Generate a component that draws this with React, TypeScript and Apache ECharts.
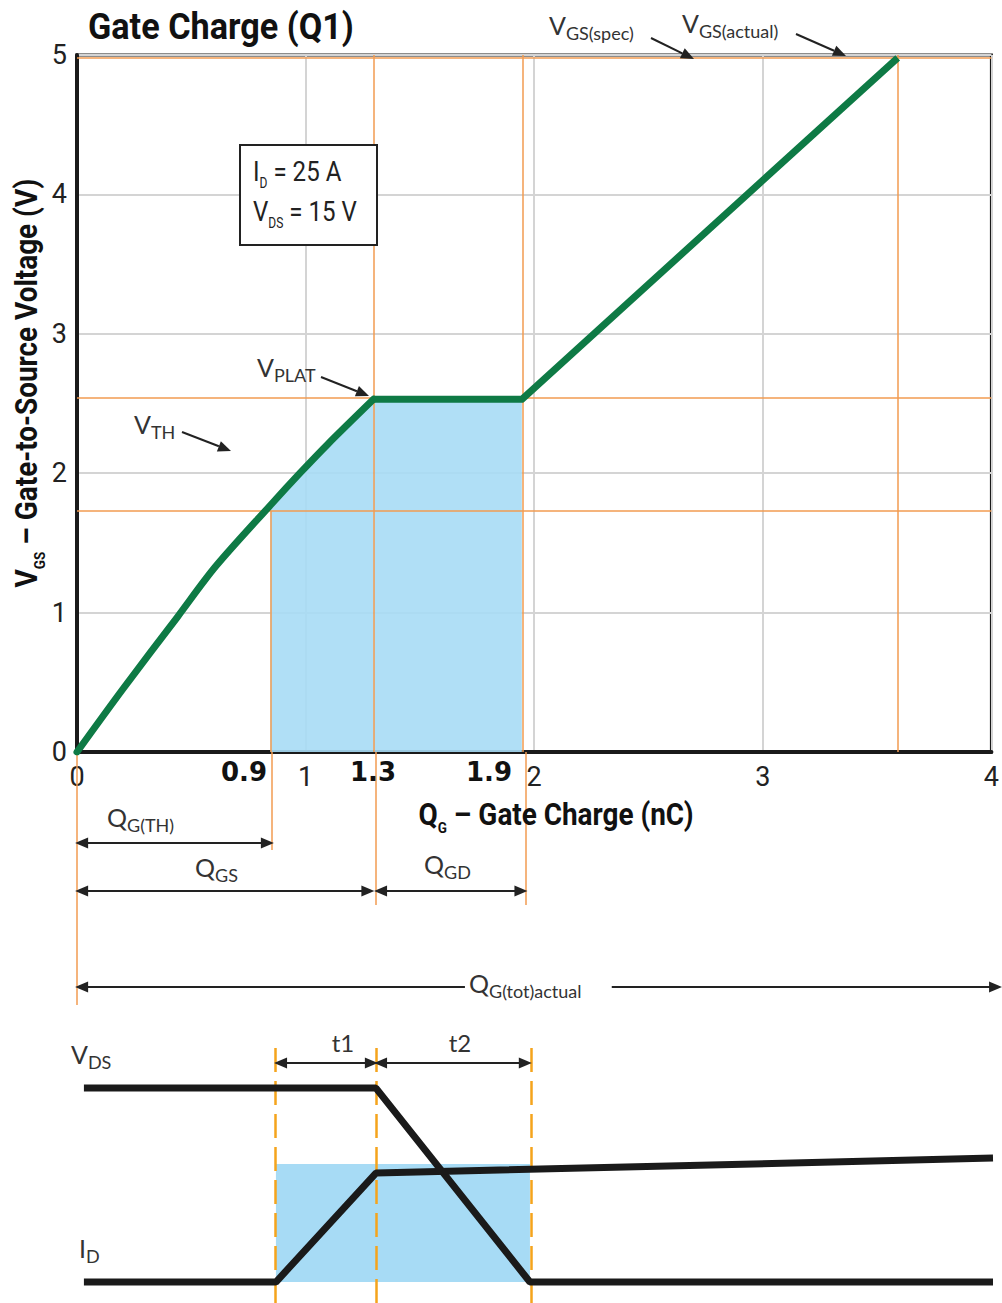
import React, { useEffect, useRef } from "react";
import * as echarts from "echarts";

// ---------- Gate charge curve (Q in nC, V in volts) ----------
// rising (curved) part up to the Miller plateau
const riseCharge = [0, 0.2, 0.44, 0.606, 0.846, 0.975, 1.098, 1.297];
const riseVoltage = [0, 0.45, 0.97, 1.33, 1.77, 2.0, 2.21, 2.53];
// plateau and final linear part
const plateauCharge = [1.297, 1.946, 3.59];
const plateauVoltage = [2.53, 2.53, 4.98];
const xRange = [0, 4];
const yRange = [0, 5];
// charge markers: QG(TH), plateau start, plateau end, QG(tot)
const chargeMarks = [0.846, 1.297, 1.946, 3.59];
const chargeMarkLabels = ["0.9", "1.3", "1.9"];
// voltage markers: VTH, VPLAT, VGS
const voltageMarks = [1.73, 2.54, 4.98];

// ---------- Charge brackets below the axis (depth rows) ----------
const bracketDepthRange = [0, 288];
const bracketRows = [91, 139, 235]; // QG(TH), QGS/QGD, QG(tot)
const guideDepths = [253, 98, 153, 153]; // orange guides at 0, QTH, plateau start, plateau end
const totGap = [1.683, 2.32];

// ---------- Switching waveforms (normalised levels) ----------
const waveYRange = [-0.108, 1.222];
const vdsTime = [0.03, 1.297, 1.965, 3.974];
const vdsLevel = [1, 1, 0, 0];
const idTime = [0.03, 0.863, 1.297, 3.974];
const idLevel = [0, 0, 0.562, 0.639];
const switchTimes = [0.863, 1.297, 1.965];
const plateauArea = [0.863, 1.965, 0.608];
const timeArrowLevel = 1.129;

const NARROW = "Roboto, 'Liberation Sans', sans-serif";
const WIDEBOLD = "'DejaVu Sans', sans-serif";
const ROUND = "Lato, 'Open Sans', 'Noto Sans', sans-serif";
const ORANGE = "#f29b50";
const DASH_ORANGE = "#f5a41c";
const BLUE = "#a7dbf5";
const GREEN = "#0e7a45";
const INK = "#1a1a1a";

type RT = {
  size: number;
  sub: number;
  family: string;
  weight?: string;
  color?: string;
  align?: string;
  rotation?: number;
  drop?: number;
  scaleX?: number;
};

function richText(x: number, y: number, text: string, o: RT) {
  const color = o.color || "#222";
  const weight = o.weight || "normal";
  return {
    type: "text",
    x,
    y,
    rotation: o.rotation || 0,
    scaleX: o.scaleX || 1,
    z: 100,
    style: {
      text,
      align: o.align || "left",
      verticalAlign: "middle",
      fontSize: o.size,
      fontFamily: o.family,
      fontWeight: weight,
      fill: color,
      rich: {
        m: {
          fontSize: o.size,
          fontFamily: o.family,
          fontWeight: weight,
          fill: color,
          verticalAlign: "top",
          padding: [0, 0, o.drop ?? 4, 0],
        },
        s: {
          fontSize: o.sub,
          fontFamily: o.family,
          fontWeight: weight,
          fill: color,
          verticalAlign: "bottom",
        },
      },
    },
  };
}

function pointer(x1: number, y1: number, x2: number, y2: number) {
  const ang = Math.atan2(y2 - y1, x2 - x1);
  const L = 13;
  const W = 5.5;
  const bx = x2 - L * Math.cos(ang);
  const by = y2 - L * Math.sin(ang);
  const px = -Math.sin(ang) * W;
  const py = Math.cos(ang) * W;
  return [
    { type: "line", z: 100, shape: { x1, y1, x2: bx, y2: by }, style: { stroke: "#222", lineWidth: 2 } },
    {
      type: "polygon",
      z: 100,
      shape: { points: [[x2, y2], [bx + px, by + py], [bx - px, by - py]] },
      style: { fill: "#222" },
    },
  ];
}

function arrowLine(x1: number, x2: number, y: number, startArrow = true, endArrow = true) {
  return [
    { coord: [x1, y], symbol: startArrow ? "triangle" : "none", symbolSize: [11, 13] },
    { coord: [x2, y], symbol: endArrow ? "triangle" : "none", symbolSize: [11, 13] },
  ];
}

export default function App() {
  const ref = useRef<HTMLDivElement>(null);

  useEffect(() => {
    if (!ref.current) return;
    const chart = echarts.init(ref.current, undefined, { renderer: "svg" });

    const rise = riseCharge.map((q, i) => [q, riseVoltage[i]]);
    const plateau = plateauCharge.map((q, i) => [q, plateauVoltage[i]]);
    const shadedRise = rise.filter((p) => p[0] >= chargeMarks[0]);
    const shadedPlateau = plateau.filter((p) => p[0] <= chargeMarks[2]);

    const orangeStyle = { color: ORANGE, width: 1.5, type: "solid" };
    const ann = { size: 25, sub: 18, family: ROUND, color: "#333", drop: 5 };

    const graphics: any[] = [
      // title
      richText(88, 27, "{m|Gate Charge (Q1)}", {
        size: 36, sub: 15, family: NARROW, weight: "bold", color: "#111", drop: 0, scaleX: 0.95,
      }),
      // y axis title
      richText(29, 383, "{m|V}{s|GS}{m| – Gate-to-Source Voltage (V)}", {
        size: 31, sub: 15, family: NARROW, weight: "bold", color: "#111",
        align: "center", rotation: Math.PI / 2, drop: 5, scaleX: 0.9,
      }),
      // x axis title
      richText(556, 817, "{m|Q}{s|G}{m| – Gate Charge (nC)}", {
        size: 31, sub: 15, family: NARROW, weight: "bold", color: "#111",
        align: "center", drop: 5, scaleX: 0.9,
      }),
      // bold charge labels
      ...chargeMarkLabels.map((t, i) => ({
        type: "text",
        x: [267, 373, 512][i],
        y: 772,
        z: 100,
        style: {
          text: t,
          fontFamily: WIDEBOLD,
          fontWeight: "bold",
          fontSize: 26,
          fill: "#111",
          align: i === 1 ? "center" : "right",
          verticalAlign: "middle",
        },
      })),
      // condition box
      {
        type: "rect",
        z: 95,
        shape: { x: 240, y: 145, width: 137, height: 100 },
        style: { fill: "#fff", stroke: "#222", lineWidth: 2 },
      },
      richText(253, 174, "{m|I}{s|D}{m| = 25 A}", { size: 28, sub: 14, family: NARROW, color: "#222", drop: 5, scaleX: 0.86 }),
      richText(253, 214, "{m|V}{s|DS}{m| = 15 V}", { size: 28, sub: 14, family: NARROW, color: "#222", drop: 5, scaleX: 0.86 }),
      // annotations in the plot
      richText(549, 27, "{m|V}{s|GS(spec)}", ann),
      ...pointer(651, 38, 694, 59),
      richText(682, 25, "{m|V}{s|GS(actual)}", ann),
      ...pointer(796, 34, 846, 56),
      richText(257, 369, "{m|V}{s|PLAT}", ann),
      ...pointer(321, 377, 369, 396),
      richText(134, 426, "{m|V}{s|TH}", ann),
      ...pointer(182, 432, 231, 451),
      // bracket labels
      richText(107, 819, "{m|Q}{s|G(TH)}", ann),
      richText(195, 869, "{m|Q}{s|GS}", ann),
      richText(424, 866, "{m|Q}{s|GD}", ann),
      richText(469, 985, "{m|Q}{s|G(tot)actual}", ann),
      // waveform labels
      richText(71, 1056, "{m|V}{s|DS}", ann),
      richText(79, 1250, "{m|I}{s|D}", ann),
      {
        type: "text",
        x: 343,
        y: 1042,
        z: 100,
        style: { text: "t1", fontFamily: ROUND, fontSize: 24, fill: "#333", align: "center", verticalAlign: "middle" },
      },
      {
        type: "text",
        x: 460,
        y: 1042,
        z: 100,
        style: { text: "t2", fontFamily: ROUND, fontSize: 24, fill: "#333", align: "center", verticalAlign: "middle" },
      },
    ];

    const option: any = {
      animation: false,
      backgroundColor: "#ffffff",
      grid: [
        { left: 77, top: 55, width: 922, height: 697, show: true, borderColor: INK, borderWidth: 3, backgroundColor: "transparent" },
        { left: 77, top: 752, width: 922, height: 288, show: false },
        { left: 77, top: 1045, width: 922, height: 258, show: false },
      ],
      xAxis: [
        {
          type: "value",
          gridIndex: 0,
          min: xRange[0],
          max: xRange[1],
          interval: 1,
          axisLine: { show: true, lineStyle: { color: INK, width: 4 } },
          axisTick: { show: false },
          splitLine: { show: true, lineStyle: { color: "#d4d4d4", width: 2 } },
          axisLabel: { fontFamily: NARROW, fontSize: 27, color: "#222", margin: 11 },
        },
        { type: "value", gridIndex: 1, min: xRange[0], max: xRange[1], show: false },
        { type: "value", gridIndex: 2, min: xRange[0], max: xRange[1], show: false },
      ],
      yAxis: [
        {
          type: "value",
          gridIndex: 0,
          min: yRange[0],
          max: yRange[1],
          interval: 1,
          axisLine: { show: true, lineStyle: { color: INK, width: 4 } },
          axisTick: { show: false },
          splitLine: { show: true, lineStyle: { color: "#d4d4d4", width: 2 } },
          axisLabel: { fontFamily: NARROW, fontSize: 27, color: "#222", margin: 10 },
        },
        { type: "value", gridIndex: 1, min: bracketDepthRange[0], max: bracketDepthRange[1], inverse: true, show: false },
        { type: "value", gridIndex: 2, min: waveYRange[0], max: waveYRange[1], show: false },
      ],
      series: [
        // shaded charge region (curved part) + orange guide lines
        {
          type: "line",
          xAxisIndex: 0,
          yAxisIndex: 0,
          data: shadedRise,
          smooth: 0.3,
          showSymbol: false,
          lineStyle: { width: 0 },
          areaStyle: { color: BLUE, opacity: 0.9 },
          z: 2,
          silent: true,
          markLine: {
            silent: true,
            symbol: "none",
            label: { show: false },
            lineStyle: orangeStyle,
            data: [
              [{ coord: [chargeMarks[0], 0] }, { coord: [chargeMarks[0], voltageMarks[0]] }],
              { xAxis: chargeMarks[1] },
              { xAxis: chargeMarks[2] },
              { xAxis: chargeMarks[3] },
              { yAxis: voltageMarks[0] },
              { yAxis: voltageMarks[1] },
              { yAxis: voltageMarks[2] },
            ],
          },
        },
        // shaded charge region (plateau)
        {
          type: "line",
          xAxisIndex: 0,
          yAxisIndex: 0,
          data: shadedPlateau,
          showSymbol: false,
          lineStyle: { width: 0 },
          areaStyle: { color: BLUE, opacity: 0.9 },
          z: 2,
          silent: true,
        },
        // gate charge curve: rising part
        {
          type: "line",
          xAxisIndex: 0,
          yAxisIndex: 0,
          data: rise,
          smooth: 0.3,
          showSymbol: false,
          lineStyle: { color: GREEN, width: 7, cap: "round", join: "round" },
          z: 10,
          silent: true,
        },
        // gate charge curve: plateau + linear rise
        {
          type: "line",
          xAxisIndex: 0,
          yAxisIndex: 0,
          data: plateau,
          showSymbol: false,
          lineStyle: { color: GREEN, width: 7, join: "round" },
          z: 10,
          silent: true,
        },
        // charge brackets
        {
          type: "line",
          xAxisIndex: 1,
          yAxisIndex: 1,
          data: [],
          silent: true,
          markLine: {
            silent: true,
            symbol: "none",
            label: { show: false },
            lineStyle: { color: "#222", width: 2, type: "solid" },
            data: [
              [{ coord: [0, 0], lineStyle: orangeStyle }, { coord: [0, guideDepths[0]] }],
              [{ coord: [chargeMarks[0], 0], lineStyle: orangeStyle }, { coord: [chargeMarks[0], guideDepths[1]] }],
              [{ coord: [chargeMarks[1], 0], lineStyle: orangeStyle }, { coord: [chargeMarks[1], guideDepths[2]] }],
              [{ coord: [chargeMarks[2], 0], lineStyle: orangeStyle }, { coord: [chargeMarks[2], guideDepths[3]] }],
              arrowLine(0.02, chargeMarks[0] - 0.02, bracketRows[0]),
              arrowLine(0.02, chargeMarks[1] - 0.035, bracketRows[1]),
              arrowLine(chargeMarks[1] + 0.02, chargeMarks[2] - 0.02, bracketRows[1]),
              arrowLine(0.02, totGap[0], bracketRows[2], true, false),
              arrowLine(totGap[1], xRange[1] - 0.015, bracketRows[2], false, true),
            ],
          },
        },
        // VDS waveform
        {
          type: "line",
          xAxisIndex: 2,
          yAxisIndex: 2,
          data: vdsTime.map((t, i) => [t, vdsLevel[i]]),
          showSymbol: false,
          lineStyle: { color: INK, width: 7 },
          z: 10,
          silent: true,
        },
        // ID waveform + shaded window + dashed timing lines
        {
          type: "line",
          xAxisIndex: 2,
          yAxisIndex: 2,
          data: idTime.map((t, i) => [t, idLevel[i]]),
          showSymbol: false,
          lineStyle: { color: INK, width: 7 },
          z: 10,
          silent: true,
          markArea: {
            silent: true,
            itemStyle: { color: BLUE },
            data: [[{ coord: [plateauArea[0], 0] }, { coord: [plateauArea[1], plateauArea[2]] }]],
          },
          markLine: {
            silent: true,
            symbol: "none",
            label: { show: false },
            lineStyle: { color: DASH_ORANGE, width: 2.5, type: [24, 9] },
            data: [
              { xAxis: switchTimes[0] },
              { xAxis: switchTimes[1] },
              { xAxis: switchTimes[2] },
              [
                { coord: [switchTimes[0] + 0.02, timeArrowLevel], symbol: "triangle", symbolSize: [11, 13], lineStyle: { color: "#222", width: 2, type: "solid" } },
                { coord: [switchTimes[1] - 0.02, timeArrowLevel], symbol: "triangle", symbolSize: [11, 13] },
              ],
              [
                { coord: [switchTimes[1] + 0.02, timeArrowLevel], symbol: "triangle", symbolSize: [11, 13], lineStyle: { color: "#222", width: 2, type: "solid" } },
                { coord: [switchTimes[2] - 0.02, timeArrowLevel], symbol: "triangle", symbolSize: [11, 13] },
              ],
            ],
          },
        },
      ],
      graphic: { elements: graphics },
    };

    chart.setOption(option);
    return () => chart.dispose();
  }, []);

  return (
    <div
      ref={ref}
      style={{ position: "absolute", left: 0, top: 0, width: 1002, height: 1303, background: "#fff" }}
    />
  );
}
